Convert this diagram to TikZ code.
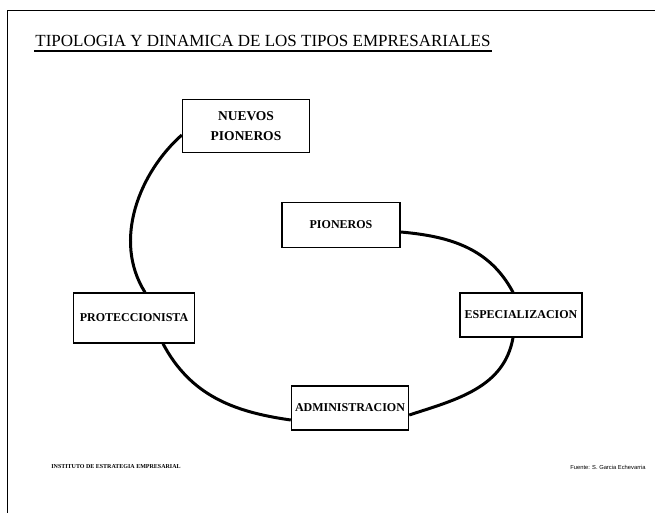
\documentclass[tikz,border=0pt]{standalone}
\usepackage{fontspec}
\setmainfont{Liberation Serif}
\newfontfamily\footsans{Liberation Sans}
\usetikzlibrary{positioning,calc}

\begin{document}
\begin{tikzpicture}[
  x=1pt, y=1pt,
  tipo/.style={
    draw,
    line width=1.4pt,
    rectangle,
    inner sep=1pt,
    minimum width=#1,
    font=\fontsize{12}{15}\selectfont\bfseries,
    align=center
    },
  enlace/.style={
    line width=3pt
    }
]
\useasboundingbox (0,0) rectangle (655,-513);
\draw[line width=0.8pt] (7,-513) -- (7,-10) -- (655,-10);

\node[anchor=base, inner sep=1pt, font=\fontsize{17}{20}\selectfont] (titulo) at (263,-47)
  {TIPOLOGIA Y DINAMICA DE LOS TIPOS EMPRESARIALES};
\draw[line width=1.2pt] ($(titulo.base west)+(0,-4)$) -- ($(titulo.base east)+(0,-4)$);

\node[tipo=127pt, minimum height=53pt, font=\fontsize{13.5}{17}\selectfont\bfseries] (nuevos) at (246,-126) {NUEVOS\\[3pt]PIONEROS};
\node[tipo=118pt, minimum height=45pt] (pioneros) at (341,-225) {PIONEROS};
\node[tipo=122pt, minimum height=44pt] (especial) at (521,-315) {ESPECIALIZACION};
\node[tipo=121pt, minimum height=50pt] (protec) at (134,-318) {PROTECCIONISTA};
\node[tipo=117pt, minimum height=44pt] (admin) at (350,-408) {ADMINISTRACION};

\draw[enlace] (nuevos.west |- 0,-135) .. controls (140,-172) and (112,-240) .. (protec.north -| 145,0);
\draw[enlace] (pioneros.east |- 0,-232) to[out=-5, in=118] (especial.north -| 513,0);
\draw[enlace] (especial.south -| 513,0) to[out=-100, in=18] (admin.east |- 0,-415);
\draw[enlace] (protec.south -| 163,0) to[out=-62, in=172] (admin.west |- 0,-420);

\node[font=\fontsize{6}{7}\selectfont\bfseries] (instituto) at (116,-467)
  {INSTITUTO DE ESTRATEGIA EMPRESARIAL};
\node[font=\footsans\fontsize{5.8}{7}\selectfont] (fuente) at (608,-467)
  {Fuente: S. Garcia Echevarria};
\end{tikzpicture}
\end{document}
